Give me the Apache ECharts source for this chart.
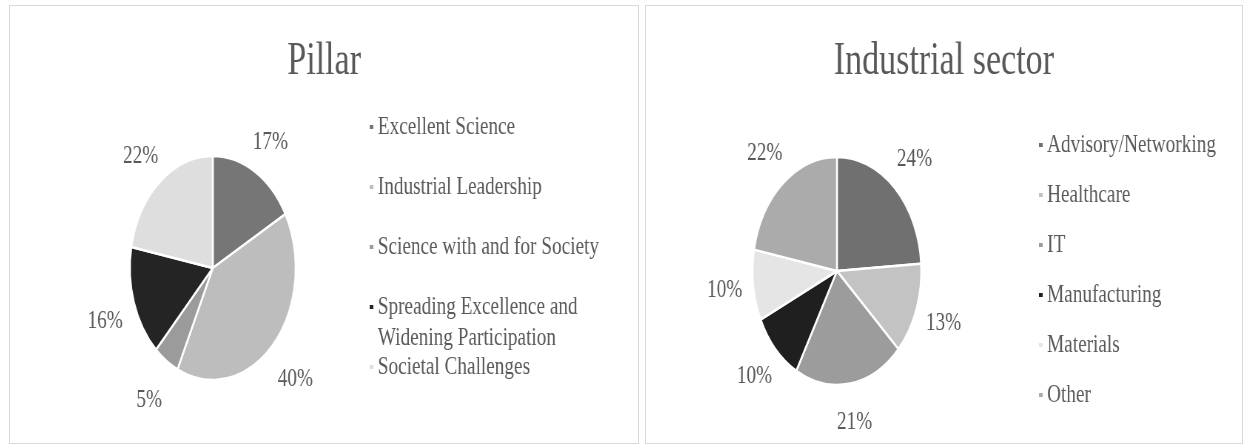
<!DOCTYPE html>
<html>
<head>
<meta charset="utf-8">
<script src="https://cdn.jsdelivr.net/npm/echarts@6/dist/echarts.min.js"></script>
<style>
  body {
    margin: 0;
    background: #fff;
    width: 1250px;
    height: 446px;
    position: relative;
    overflow: hidden;
  }
  .panel {
    position: absolute;
    top: 5px;
    height: 437px;
    border: 1px solid #d9d9d9;
    overflow: hidden;
    background: #fff;
  }
  /* the source picture is squeezed horizontally, so draw wide and squeeze */
  .chart {
    height: 437px;
    transform: scaleX(0.74);
    transform-origin: 0 0;
  }
</style>
</head>
<body>
<div class="panel" style="left: 9px; width: 628px;">
  <div id="pillar-chart" class="chart" style="width: 849px;"></div>
</div>
<div class="panel" style="left: 645px; width: 596px;">
  <div id="sector-chart" class="chart" style="width: 805px;"></div>
</div>

<script>
// Pillar
const pillarNames = [
  "Excellent Science",
  "Industrial Leadership",
  "Science with and for Society",
  "Spreading Excellence and Widening Participation",
  "Societal Challenges",
];
const pillarValues = [17, 40, 5, 16, 22];
const pillarColors = ["#767676", "#bdbdbd", "#9b9b9b", "#242424", "#dedede"];

// Industrial sector
const sectorNames = [
  "Advisory/Networking",
  "Healthcare",
  "IT",
  "Manufacturing",
  "Materials",
  "Other",
];
const sectorValues = [24, 13, 21, 10, 10, 22];
const sectorColors = ["#707070", "#c3c3c3", "#9c9c9c", "#1f1f1f", "#e5e5e5", "#ababab"];

const FONT = "Liberation Serif";
const TEXT_COLOR = "#595959";
const LONG_NAME = "Spreading Excellence and Widening Participation";

function toData(names, values) {
  return names.map((name, i) => ({ name: name, value: values[i] }));
}

function legendBase(left, top, gap, names) {
  return {
    orient: "vertical",
    left: left,
    top: top,
    padding: 0,
    itemGap: gap,
    itemWidth: 7,
    itemHeight: 6,
    icon: "rect",
    selectedMode: false,
    textStyle: {
      fontFamily: FONT,
      fontSize: 26,
      lineHeight: 31,
      color: TEXT_COLOR,
    },
    formatter: function (name) {
      // empty first line keeps the marker next to the first text line
      if (name === LONG_NAME) {
        return "\nSpreading Excellence and\nWidening Participation";
      }
      return name;
    },
    data: names,
  };
}

function pieSeries(data, colors, center, radius, labelCenter, labelRadius) {
  return [
    {
      type: "pie",
      center: center,
      radius: radius,
      startAngle: 90,
      clockwise: true,
      color: colors,
      label: { show: false },
      labelLine: { show: false },
      itemStyle: { borderColor: "#fff", borderWidth: 2.5 },
      emphasis: { disabled: true },
      data: data,
    },
    {
      // transparent ring that only carries the percent labels
      type: "pie",
      center: labelCenter,
      radius: [radius, 2 * labelRadius - radius],
      startAngle: 90,
      clockwise: true,
      silent: true,
      itemStyle: { color: "transparent" },
      label: {
        show: true,
        position: "inside",
        formatter: "{c}%",
        fontFamily: FONT,
        fontSize: 26,
        color: TEXT_COLOR,
      },
      labelLine: { show: false },
      emphasis: { disabled: true },
      data: data,
    },
  ];
}

function titleOf(text) {
  return {
    text: text,
    left: "center",
    top: 33,
    padding: 0,
    textStyle: {
      fontFamily: FONT,
      fontSize: 46,
      fontWeight: "normal",
      color: TEXT_COLOR,
    },
  };
}

// left chart
const pillarChart = echarts.init(document.getElementById("pillar-chart"));
pillarChart.setOption({
  animation: false,
  title: titleOf("Pillar"),
  legend: [
    legendBase(484, 105.5, 29, pillarNames.slice(0, 3)),
    legendBase(484, 254.5, 29, pillarNames.slice(3, 4)),
    legendBase(484, 345.5, 29, pillarNames.slice(4)),
  ],
  series: pieSeries(
    toData(pillarNames, pillarValues), pillarColors,
    [274, 262], 112, [274, 268], 150
  ),
});

// right chart
const sectorChart = echarts.init(document.getElementById("sector-chart"));
sectorChart.setOption({
  animation: false,
  title: titleOf("Industrial sector"),
  legend: legendBase(529, 123.5, 19, sectorNames),
  series: pieSeries(
    toData(sectorNames, sectorValues), sectorColors,
    [258, 265], 114, [258, 265], 150
  ),
});
</script>
</body>
</html>
